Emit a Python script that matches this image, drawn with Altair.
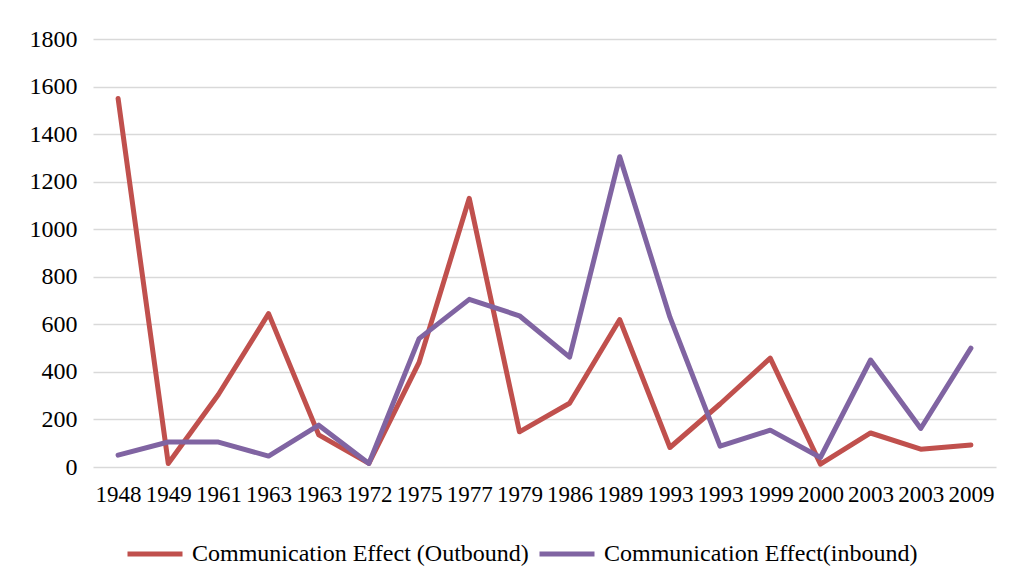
import altair as alt
import pandas as pd

years = ["1948", "1949", "1961", "1963", "1963", "1972", "1975", "1977", "1979",
         "1986", "1989", "1993", "1993", "1999", "2000", "2003", "2003", "2009"]
outbound = [1550, 15, 305, 645, 135, 15, 440, 1130, 148, 268, 620, 82, 265, 458, 12, 143, 75, 93]
inbound = [50, 105, 105, 46, 176, 15, 540, 705, 636, 462, 1305, 630, 88, 155, 40, 450, 162, 500]

s_out = "Communication Effect (Outbound)"
s_in = "Communication Effect(inbound)"

rows = []
for i, y in enumerate(years):
    rows.append({"idx": i, "year": y, "series": s_out, "value": outbound[i]})
for i, y in enumerate(years):
    rows.append({"idx": i, "year": y, "series": s_in, "value": inbound[i]})
df = pd.DataFrame(rows)

label_expr = "[" + ",".join("'%s'" % y for y in years) + "][datum.value]"

FONT = "Liberation Serif"

chart = alt.Chart(df).mark_line(strokeWidth=5, strokeCap="round", strokeJoin="round").encode(
    x=alt.X("idx:O", title=None,
            scale=alt.Scale(padding=0.5),
            axis=alt.Axis(labelExpr=label_expr, labelAngle=0, ticks=False, domain=False,
                          grid=False, labelFont=FONT, labelFontSize=23, labelColor="#000000",
                          labelPadding=16, labelOverlap=False)),
    y=alt.Y("value:Q", title=None,
            scale=alt.Scale(domain=[0, 1800], nice=False),
            axis=alt.Axis(values=list(range(0, 1801, 200)), format="d", ticks=False, domain=False,
                          gridColor="#d9d9d9", gridWidth=1.5, labelFont=FONT, labelFontSize=24,
                          labelColor="#000000", labelPadding=16)),
    color=alt.Color("series:N", title=None,
                    scale=alt.Scale(domain=[s_out, s_in], range=["#C0504D", "#8064A2"]),
                    legend=alt.Legend(orient="none", legendX=32, legendY=485,
                                      direction="horizontal", symbolType="stroke",
                                      symbolSize=3025, symbolStrokeWidth=5, labelFont=FONT,
                                      labelFontSize=24, labelColor="#000000", columnPadding=0,
                                      labelOffset=7, labelLimit=500)),
    order="idx:O",
).properties(
    width=903,
    height=428,
    autosize=alt.AutoSizeParams(type="none"),
    padding={"left": 85, "top": 31, "right": 9, "bottom": 112},
).configure(background="#ffffff").configure_view(stroke=None)

chart.save("out.html", embed_options={"renderer": "svg", "actions": False})
